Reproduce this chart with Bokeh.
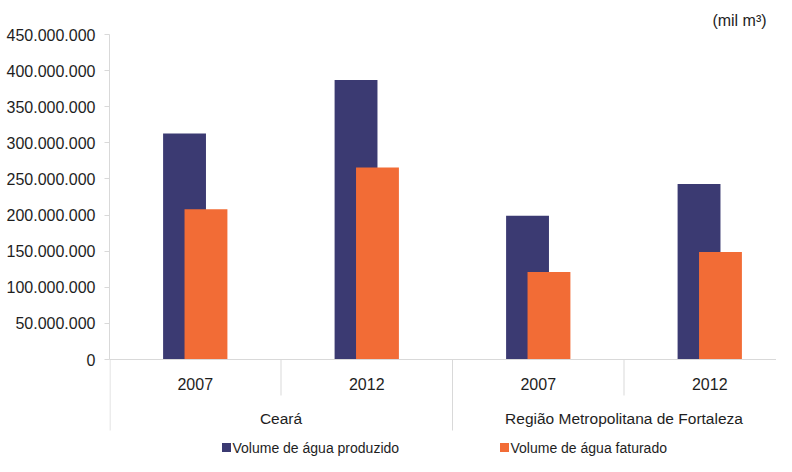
from bokeh.plotting import figure
from bokeh.models import Range1d, FixedTicker, Span, ColumnDataSource
from bokeh.core.properties import value
from bokeh.transform import dodge
from bokeh.embed import file_html
from bokeh.resources import INLINE

# ---------------- data ----------------
groups = ["Ceará", "Região Metropolitana de Fortaleza"]
years = ["2007", "2012", "2007", "2012"]
produzido = [313e6, 387e6, 199e6, 243e6]
faturado = [208e6, 266e6, 121e6, 149e6]
y_ticks = [0, 50e6, 100e6, 150e6, 200e6, 250e6, 300e6, 350e6, 400e6, 450e6]
series_names = ["Volume de água produzido", "Volume de água faturado"]
unit_label = "(mil m³)"

# ---------------- style / layout ----------------
NAVY = "#3b3a72"
ORANGE = "#f26c36"
GRAY = "#d9d9d9"
TXT = "#1e1e1e"
FONT = "Liberation Sans"

W, H = 776, 456
FL = 109          # frame left (px)
CAT_PX = 171.5    # px per category
ZERO = 359        # y pixel of value 0
PX_PER = 325 / 450e6


def cx(px):
    return (px - FL) / CAT_PX


def cy(py):
    return (ZERO - py) / PX_PER


p = figure(width=W, height=H, output_backend="svg", toolbar_location=None,
           x_range=Range1d(0, (W - FL) / CAT_PX),
           y_range=Range1d(cy(H), cy(0)),
           min_border_left=FL, min_border_right=0,
           min_border_top=0, min_border_bottom=0)
p.xaxis.visible = False
p.xgrid.visible = False
p.ygrid.visible = False
p.outline_line_color = None
p.background_fill_color = "white"
p.border_fill_color = "white"

ya = p.yaxis[0]
ya.ticker = FixedTicker(ticks=y_ticks)
ya.bounds = (0, max(y_ticks))
ya.major_label_overrides = {
    t: (f"{int(t):,}".replace(",", ".")) for t in y_ticks
}
ya.axis_line_color = GRAY
ya.major_tick_line_color = GRAY
ya.major_tick_out = 5
ya.major_tick_in = 0
ya.minor_tick_line_color = None
ya.major_label_standoff = 9
ya.major_label_text_font = FONT
ya.major_label_text_font_size = "16px"
ya.major_label_text_color = TXT

# zero baseline
p.add_layout(Span(location=0, dimension="width", line_color=GRAY, line_width=1))

# bars
xs = [i + 0.5 for i in range(len(years))]
src = ColumnDataSource(dict(x=xs, prod=produzido, fat=faturado))
p.vbar(x=dodge("x", -0.0625, range=p.x_range), top="prod", width=0.25, bottom=0,
       source=src, fill_color=NAVY, line_color=None)
p.vbar(x=dodge("x", 0.0625, range=p.x_range), top="fat", width=0.25, bottom=0,
       source=src, fill_color=ORANGE, line_color=None)

# category separators
year_sep_x = [1, 3]
group_sep_x = [0.003, 2]
p.segment(x0=year_sep_x, x1=year_sep_x, y0=[0] * 2, y1=[cy(395)] * 2,
          line_color=GRAY, line_width=1)
p.segment(x0=group_sep_x, x1=group_sep_x, y0=[0] * 2, y1=[cy(430)] * 2,
          line_color=GRAY, line_width=1)

# year labels
p.text(x=xs, y=[cy(383)] * len(years), text=years,
       text_font=value(FONT), text_font_size="16px", text_color=TXT,
       text_align="center", text_baseline="middle")
# group labels
p.text(x=[1.0, 3.0], y=[cy(418)] * 2, text=groups,
       text_font=value(FONT), text_font_size="15.5px", text_color=TXT,
       text_align="center", text_baseline="middle")

# unit label
p.text(x=[cx(739)], y=[cy(20)], text=[unit_label],
       text_font=value(FONT), text_font_size="16px", text_color=TXT,
       text_align="center", text_baseline="middle")

# legend
leg_y = cy(447)
p.scatter(x=[cx(226), cx(504)], y=[leg_y, leg_y], marker="square", size=9,
          fill_color=[NAVY, ORANGE], line_color=None)
p.text(x=[cx(232), cx(510)], y=[leg_y, leg_y], text=series_names,
       text_font=value(FONT), text_font_size="14px", text_color=TXT,
       text_align="left", text_baseline="middle")

open("out.html", "w").write(file_html(p, INLINE))
